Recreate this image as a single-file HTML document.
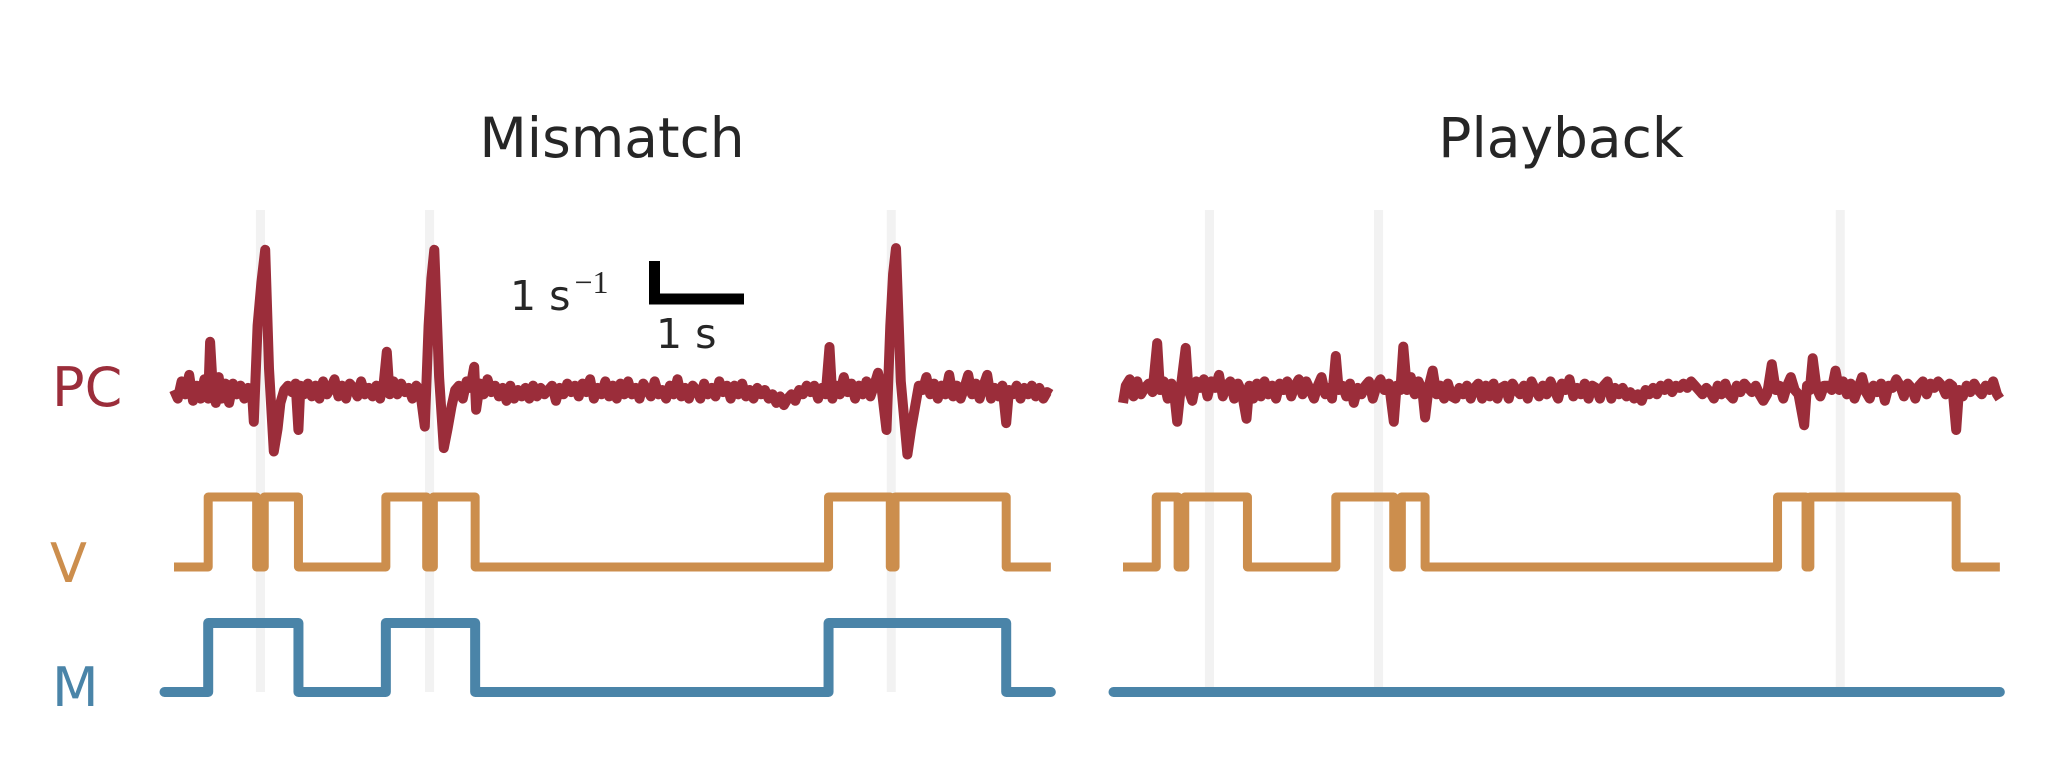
<!DOCTYPE html>
<html><head><meta charset="utf-8"><style>
html,body{margin:0;padding:0;background:#fff;}
svg{display:block;}
text{font-family:"DejaVu Sans","Liberation Sans",sans-serif;}
</style></head><body>
<svg id="chart" width="2048" height="770" viewBox="0 0 2048 770" xmlns="http://www.w3.org/2000/svg">
<rect width="2048" height="770" fill="#fff"/>
<text x="612" y="157" font-size="55" fill="#262626" text-anchor="middle">Mismatch</text>
<text x="1561" y="157" font-size="55" fill="#262626" text-anchor="middle">Playback</text>
<text x="52" y="406" font-size="54" fill="#9b2d3a">PC</text>
<text x="50" y="582" font-size="54" fill="#cc8e4d">V</text>
<text x="52" y="706" font-size="54" fill="#4a84a8">M</text>
<g id="bands"></g>
<g id="traces"></g>
<g>
<path d="M654.5,261 V299 H744" fill="none" stroke="#000" stroke-width="11" stroke-linejoin="miter"/>
<text x="510" y="310" font-size="41" fill="#262626">1 s<tspan font-family="Liberation Serif,serif" font-size="32" dy="-17" dx="4">−1</tspan></text>
<text x="656" y="348" font-size="41" fill="#262626">1 s</text>
</g>
</svg>
<script>
// event times (s) shown as gray bands
const bandTimes = [0.91, 2.69, 7.55];
// V transitions (s), alternating up/down, starting low
const vEdgesMismatch = [0.36, 0.87, 0.95, 1.31, 2.23, 2.66, 2.73, 3.17, 6.89, 7.54, 7.59, 8.76];
const vEdgesPlayback = [0.35, 0.58, 0.65, 1.31, 2.24, 2.85, 2.93, 3.18, 6.89, 7.19, 7.23, 8.77];
// M transitions (s)
const mEdgesMismatch = [0.36, 1.31, 2.23, 3.17, 6.89, 8.76];
const mEdgesPlayback = [];
// PC traces: [time s, rate s^-1]
const pcMismatch = [[0,0],[0.04,-0.2],[0.08,0.2],[0.12,-0.1],[0.16,0.35],[0.2,-0.25],[0.24,0.1],[0.28,-0.2],[0.32,0.25],[0.36,-0.2],[0.38,1.12],[0.41,0],[0.44,-0.3],[0.47,0.3],[0.5,-0.2],[0.54,0.15],[0.58,-0.3],[0.62,0.15],[0.66,-0.1],[0.7,0.1],[0.74,-0.2],[0.78,0.05],[0.82,0],[0.84,-0.74],[0.88,1.5],[0.92,2.5],[0.96,3.26],[1.0,0.5],[1.05,-1.43],[1.09,-0.9],[1.12,-0.3],[1.16,0],[1.2,0.1],[1.24,-0.05],[1.28,0.15],[1.31,-0.93],[1.33,0.1],[1.37,-0.1],[1.41,0.15],[1.45,-0.15],[1.49,0.1],[1.53,-0.2],[1.57,0.2],[1.61,-0.1],[1.65,0.05],[1.69,0.25],[1.73,-0.15],[1.77,0.1],[1.81,-0.2],[1.85,0.15],[1.89,0.05],[1.93,-0.15],[1.97,0.2],[2.01,-0.1],[2.05,0.05],[2.09,-0.15],[2.13,0.1],[2.17,-0.2],[2.21,0.2],[2.24,0.89],[2.27,-0.1],[2.31,0.2],[2.35,-0.1],[2.39,0.15],[2.43,-0.05],[2.47,0.05],[2.51,-0.2],[2.55,0.1],[2.59,0],[2.64,-0.85],[2.68,1.5],[2.71,2.6],[2.74,3.26],[2.79,0.3],[2.84,-1.35],[2.88,-0.9],[2.92,-0.4],[2.96,0],[3.0,0.1],[3.04,-0.2],[3.08,0.2],[3.12,0.05],[3.16,0.54],[3.18,-0.46],[3.22,0.15],[3.26,-0.1],[3.3,0.25],[3.34,-0.05],[3.38,0.1],[3.42,-0.15],[3.46,0.05],[3.5,-0.25],[3.54,0.1],[3.58,-0.2],[3.62,0],[3.66,-0.15],[3.7,0.05],[3.74,-0.2],[3.78,0.1],[3.82,-0.15],[3.86,0.05],[3.9,-0.1],[3.94,0],[3.98,0.1],[4.02,-0.25],[4.06,0.05],[4.1,-0.1],[4.14,0.15],[4.18,-0.05],[4.22,0.1],[4.26,-0.15],[4.3,0.15],[4.34,-0.05],[4.38,0.25],[4.42,-0.2],[4.46,0.05],[4.5,-0.1],[4.54,0.2],[4.58,-0.15],[4.62,0.1],[4.66,-0.2],[4.7,0.15],[4.74,-0.1],[4.78,0.2],[4.82,-0.1],[4.86,0.05],[4.9,-0.2],[4.94,0.15],[4.98,0],[5.02,-0.15],[5.06,0.2],[5.1,-0.1],[5.14,0],[5.18,-0.2],[5.22,0.1],[5.26,-0.1],[5.3,0.25],[5.34,-0.15],[5.38,0.05],[5.42,-0.2],[5.46,0.1],[5.5,0],[5.54,-0.2],[5.58,0.15],[5.62,-0.1],[5.66,0.05],[5.7,-0.15],[5.74,0.2],[5.78,-0.05],[5.82,0.1],[5.86,-0.2],[5.9,0.1],[5.94,-0.1],[5.98,0.15],[6.02,-0.15],[6.06,0],[6.1,-0.2],[6.14,0.05],[6.18,-0.1],[6.22,0],[6.26,-0.2],[6.3,-0.1],[6.34,-0.3],[6.38,-0.15],[6.42,-0.35],[6.46,-0.2],[6.5,-0.1],[6.54,-0.25],[6.58,0],[6.62,-0.1],[6.66,0.1],[6.7,-0.05],[6.74,0.1],[6.78,-0.2],[6.82,0.05],[6.86,-0.1],[6.9,1.0],[6.93,-0.2],[6.97,0.1],[7.01,-0.1],[7.05,0.3],[7.09,-0.05],[7.13,0.15],[7.17,-0.2],[7.21,0.1],[7.25,-0.1],[7.29,0.2],[7.33,-0.15],[7.37,0.1],[7.41,0.4],[7.45,0],[7.5,-0.93],[7.54,1.5],[7.57,2.7],[7.6,3.3],[7.65,0.2],[7.72,-1.5],[7.76,-0.9],[7.8,-0.4],[7.84,0.1],[7.88,0],[7.92,0.3],[7.96,-0.1],[8.0,0.15],[8.04,-0.2],[8.08,0.1],[8.12,-0.1],[8.16,0.35],[8.2,-0.15],[8.24,0.1],[8.28,-0.2],[8.32,0.05],[8.36,0.35],[8.4,-0.1],[8.44,0.15],[8.48,-0.2],[8.52,0.1],[8.56,0.35],[8.6,-0.2],[8.64,0.05],[8.68,-0.15],[8.72,0.1],[8.76,-0.77],[8.79,0],[8.83,-0.1],[8.87,0.1],[8.91,-0.2],[8.95,0.05],[8.99,-0.1],[9.03,0.1],[9.07,-0.15],[9.11,0.05],[9.15,-0.2],[9.19,-0.05],[9.23,-0.1]];
const pcPlayback = [[0,-0.3],[0.03,0.1],[0.07,0.25],[0.11,-0.15],[0.15,0.2],[0.19,-0.1],[0.23,0.05],[0.27,0.15],[0.31,-0.05],[0.36,1.09],[0.39,0],[0.43,0.2],[0.47,-0.2],[0.51,0.15],[0.54,-0.1],[0.57,-0.74],[0.61,0.1],[0.66,0.98],[0.69,0],[0.73,-0.25],[0.77,0.2],[0.81,0.05],[0.85,0.25],[0.89,-0.15],[0.93,0.2],[0.97,0.05],[1.01,0.35],[1.05,-0.15],[1.09,0.1],[1.13,0.2],[1.17,-0.2],[1.21,0.15],[1.25,-0.05],[1.3,-0.67],[1.33,0.1],[1.37,-0.2],[1.41,0.15],[1.45,-0.15],[1.49,0.2],[1.53,-0.1],[1.57,0.1],[1.61,-0.2],[1.65,0.15],[1.69,0.0],[1.73,0.2],[1.77,-0.15],[1.81,0.1],[1.85,0.25],[1.89,-0.1],[1.93,0.2],[1.97,0],[2.01,-0.2],[2.05,0.1],[2.09,0.3],[2.13,-0.1],[2.17,0.05],[2.2,-0.2],[2.24,0.79],[2.27,0],[2.31,0.1],[2.35,-0.15],[2.39,0.15],[2.43,-0.3],[2.47,0.05],[2.51,-0.1],[2.55,0.1],[2.59,0.2],[2.63,-0.2],[2.67,0.1],[2.71,0.25],[2.75,0],[2.8,0.15],[2.85,-0.74],[2.88,0.1],[2.92,0],[2.95,1.01],[2.99,0],[3.03,0.3],[3.07,-0.1],[3.11,0.2],[3.15,0],[3.18,-0.64],[3.22,0.1],[3.26,0.45],[3.3,-0.1],[3.34,0.1],[3.38,-0.2],[3.42,0.15],[3.46,-0.15],[3.5,-0.2],[3.54,0.05],[3.58,-0.1],[3.62,0.1],[3.66,-0.2],[3.7,0.05],[3.74,0.15],[3.78,-0.2],[3.82,0.1],[3.86,-0.15],[3.9,0.15],[3.94,-0.2],[3.98,0.05],[4.02,0.1],[4.06,-0.2],[4.1,0.15],[4.14,0],[4.18,-0.1],[4.22,0.1],[4.26,-0.2],[4.3,0.2],[4.34,0],[4.38,-0.15],[4.42,0.1],[4.46,-0.1],[4.5,0.2],[4.54,0],[4.58,-0.2],[4.62,0.15],[4.66,0],[4.7,0.25],[4.74,-0.15],[4.78,0.05],[4.82,-0.1],[4.86,0.15],[4.9,-0.2],[4.94,0.1],[4.98,0.05],[5.02,-0.2],[5.06,0.1],[5.1,0.2],[5.14,-0.2],[5.18,0.05],[5.22,-0.1],[5.26,0.05],[5.3,-0.15],[5.34,-0.05],[5.38,-0.2],[5.42,-0.1],[5.46,-0.25],[5.5,0],[5.54,-0.1],[5.58,0.05],[5.62,-0.1],[5.66,0.1],[5.7,0.0],[5.74,0.15],[5.78,-0.05],[5.82,0.1],[5.86,0.05],[5.9,0.15],[5.94,0.05],[5.98,0.2],[6.02,0.1],[6.06,0.0],[6.1,-0.1],[6.14,0.05],[6.18,-0.05],[6.22,-0.2],[6.26,0.1],[6.3,-0.1],[6.34,0.15],[6.38,-0.1],[6.42,-0.2],[6.46,0.1],[6.5,-0.05],[6.54,0.15],[6.58,0.05],[6.62,-0.05],[6.66,0.1],[6.7,-0.1],[6.74,-0.25],[6.78,-0.1],[6.83,0.6],[6.87,0],[6.91,0.1],[6.95,-0.2],[6.99,0.1],[7.03,0.3],[7.07,0],[7.11,-0.1],[7.17,-0.82],[7.2,0.1],[7.23,0],[7.26,0.74],[7.3,0.05],[7.34,-0.15],[7.38,0.1],[7.42,0.1],[7.46,0.0],[7.5,0.45],[7.54,0],[7.58,0.2],[7.62,-0.1],[7.66,0.15],[7.7,-0.2],[7.74,0.05],[7.78,0.3],[7.82,-0.05],[7.86,-0.2],[7.9,0.1],[7.94,-0.05],[7.98,0.15],[8.02,-0.25],[8.06,0.1],[8.1,0.05],[8.14,0.25],[8.18,0.1],[8.22,-0.15],[8.26,0.15],[8.3,0.05],[8.34,-0.2],[8.38,0.1],[8.42,0.2],[8.46,-0.1],[8.5,0.15],[8.54,0.05],[8.58,0.2],[8.62,0.1],[8.66,-0.1],[8.7,0.15],[8.73,0.1],[8.77,-0.93],[8.8,0],[8.84,-0.15],[8.88,0.1],[8.92,-0.05],[8.96,0.15],[9.0,0],[9.04,-0.1],[9.08,0.1],[9.12,0],[9.16,0.2],[9.2,-0.1],[9.23,-0.2]];

const NS='http://www.w3.org/2000/svg';
const PX_PER_S = 95;
const panelX0 = [174, 1123];
const T_END = 9.23;
const pcY0 = 390, PX_PER_RATE = 43;
const vLow = 567, vHigh = 497;
const mLow = 692, mHigh = 623;
function xScale(panel, t){ return panelX0[panel] + t * PX_PER_S; }
function pcScale(v){ return pcY0 - v * PX_PER_RATE; }

const bandsG = document.getElementById('bands');
const tracesG = document.getElementById('traces');

[0,1].forEach(function(p){
  bandTimes.forEach(function(t, i){
    const r = document.createElementNS(NS,'rect');
    r.setAttribute('x', xScale(p,t) - 4.5);
    r.setAttribute('y', 210);
    r.setAttribute('width', 9);
    r.setAttribute('height', 482);
    r.setAttribute('fill', '#f2f2f2');
    
    
    bandsG.appendChild(r);
  });
});

function stepPath(p, edges, lo, hi, tStart){
  let d = 'M' + xScale(p,tStart) + ',' + lo;
  let high = false;
  edges.forEach(function(t){
    const x = xScale(p,t);
    d += ' L' + x + ',' + (high ? hi : lo) + ' L' + x + ',' + (high ? lo : hi);
    high = !high;
  });
  d += ' L' + xScale(p,T_END) + ',' + (high ? hi : lo);
  return d;
}
function pcPath(p, pts){
  return pts.map(function(pt, i){ return (i ? 'L' : 'M') + xScale(p, pt[0]).toFixed(1) + ',' + pcScale(pt[1]).toFixed(1); }).join(' ');
}

const pcs = [pcMismatch, pcPlayback];
const vs = [vEdgesMismatch, vEdgesPlayback];
const ms = [mEdgesMismatch, mEdgesPlayback];
[0,1].forEach(function(p){
  const pc = document.createElementNS(NS,'path');
  pc.setAttribute('d', pcPath(p, pcs[p]));
  pc.setAttribute('fill','none'); pc.setAttribute('stroke','#9b2d3a'); pc.setAttribute('stroke-width','10'); pc.setAttribute('stroke-linejoin','round');
  
  
  tracesG.appendChild(pc);

  const v = document.createElementNS(NS,'path');
  v.setAttribute('d', stepPath(p, vs[p], vLow, vHigh, 0));
  v.setAttribute('fill','none'); v.setAttribute('stroke','#cc8e4d'); v.setAttribute('stroke-width','9'); v.setAttribute('stroke-linejoin','round');
  
  
  tracesG.appendChild(v);

  const m = document.createElementNS(NS,'path');
  m.setAttribute('d', stepPath(p, ms[p], mLow, mHigh, -0.1));
  m.setAttribute('fill','none'); m.setAttribute('stroke','#4a84a8'); m.setAttribute('stroke-width','10'); m.setAttribute('stroke-linejoin','round'); m.setAttribute('stroke-linecap','round');
  
  
  tracesG.appendChild(m);
});
</script>
</body></html>
